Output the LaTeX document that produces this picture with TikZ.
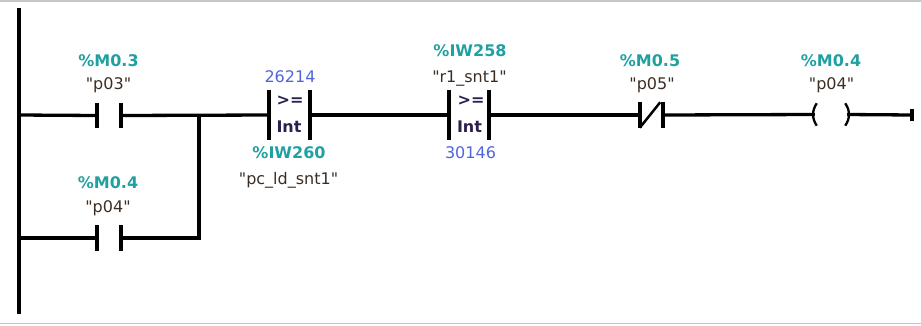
\documentclass[tikz,border=0pt]{standalone}
\usepackage{fontspec}
\setmainfont{DejaVu Sans}[Ligatures=TeXOff]
\definecolor{addrteal}{RGB}{32,160,160}
\definecolor{constblue}{RGB}{80,100,220}
\definecolor{tagbrown}{RGB}{60,45,35}
\definecolor{opnavy}{RGB}{45,30,80}
\newcommand{\dq}{\symbol{34}}
\tikzset{
  wire/.style={line width=3.3pt},
  rail/.style={line width=4.5pt},
  plate/.style={line width=3.8pt},
  elem/.style={inner sep=0pt, minimum width=24pt, minimum height=25pt},
  cmpbox/.style={inner sep=0pt, minimum width=40pt, minimum height=50pt},
  coilbox/.style={inner sep=0pt, minimum width=32pt, minimum height=22pt},
  addr/.style={anchor=base, text=addrteal, font=\fontsize{16}{18}\selectfont\bfseries},
  tag/.style={anchor=base, text=tagbrown, font=\fontsize{16}{18}\selectfont},
  const/.style={anchor=base, text=constblue, font=\fontsize{16}{18}\selectfont},
  op/.style={text=opnavy, font=\fontsize{16}{18}\selectfont\bfseries},
}
\begin{document}
\begin{tikzpicture}[x=1pt,y=-1pt]
  \useasboundingbox (0,0) rectangle (921,325);
  \draw[gray!45, line width=1.5pt] (0,0.8) -- (921,0.8) (0,323.5) -- (921,323.5);
  % rail and rung points
  \coordinate (rtop) at (19,8);
  \coordinate (rbot) at (19,314);
  \coordinate (r1) at (19,115);
  \coordinate (r2) at (19,238);
  \coordinate (br1) at (199,115);
  \coordinate (br2) at (199,238);
  \coordinate (rend) at (912,115);
  % elements
  \node[elem] (c03) at (109,115.5) {};
  \node[elem] (c04) at (109,238) {};
  \node[cmpbox] (cmp1) at (289.5,115) {};
  \node[cmpbox] (cmp2) at (469,115) {};
  \node[elem, minimum width=23pt] (nc05) at (651.5,115) {};
  \node[coilbox] (coil) at (831,114.5) {};
  % texts
  \node[addr] (a03) at (108.5,66) {\%M0.3};
  \node[tag] (t03) at (108.5,89) {\dq p03\dq};
  \node[addr] (a04) at (108,188) {\%M0.4};
  \node[tag] (t04) at (108,212) {\dq p04\dq};
  \node[const] (k1) at (290,82) {26214};
  \node[op] (o1) at (290,101) {>=};
  \node[op, anchor=base] (i1) at (289,132) {Int};
  \node[addr] (a260) at (289,158) {\%IW260};
  \node[tag] (t260) at (288.5,184) {\dq pc\_ld\_snt1\dq};
  \node[addr] (a258) at (470,56) {\%IW258};
  \node[tag] (t258) at (469.5,82) {\dq r1\_snt1\dq};
  \node[op] (o2) at (471,101) {>=};
  \node[op, anchor=base] (i2) at (469.5,132) {Int};
  \node[const] (k2) at (470.5,158) {30146};
  \node[addr] (a05) at (650,66) {\%M0.5};
  \node[tag] (t05) at (652,89) {\dq p05\dq};
  \node[addr] (aq) at (831,66) {\%M0.4};
  \node[tag] (tq) at (831.5,89) {\dq p04\dq};
  % rail
  \draw[rail] (rtop) -- (rbot);
  % contacts and boxes
  \draw[plate] (c03.north west) -- (c03.south west) (c03.north east) -- (c03.south east);
  \draw[plate] (c04.north west) -- (c04.south west) (c04.north east) -- (c04.south east);
  \draw[plate] (cmp1.north west) -- (cmp1.south west) (cmp1.north east) -- (cmp1.south east);
  \draw[plate] (cmp2.north west) -- (cmp2.south west) (cmp2.north east) -- (cmp2.south east);
  \draw[plate] (nc05.north west) -- (nc05.south west) (nc05.north east) -- (nc05.south east);
  \draw[line width=2.5pt] (nc05.south west) -- ([xshift=-3pt]nc05.north east);
  \draw[line width=2.3pt] ([xshift=2pt]coil.north west) to[bend right=35] ([xshift=2pt]coil.south west);
  \draw[line width=2.3pt] ([xshift=-2pt]coil.north east) to[bend left=35] ([xshift=-2pt]coil.south east);
  % connectors
  \draw[wire] (r1) -- (c03.west);
  \draw[wire] (c03.east) -- (cmp1.west);
  \draw[wire] (cmp1.east) -- (cmp2.west);
  \draw[wire] (cmp2.east) -- (nc05.west);
  \draw[wire] (nc05.east) -- (coil.west);
  \draw[wire] (coil.east) -- (rend);
  \draw[wire] (r2) -- (c04.west);
  \draw[wire] (c04.east) -- (br2) -- (br1);
  \draw[line width=3.5pt] ([yshift=-6pt]rend) -- ([yshift=6pt]rend);
\end{tikzpicture}
\end{document}
